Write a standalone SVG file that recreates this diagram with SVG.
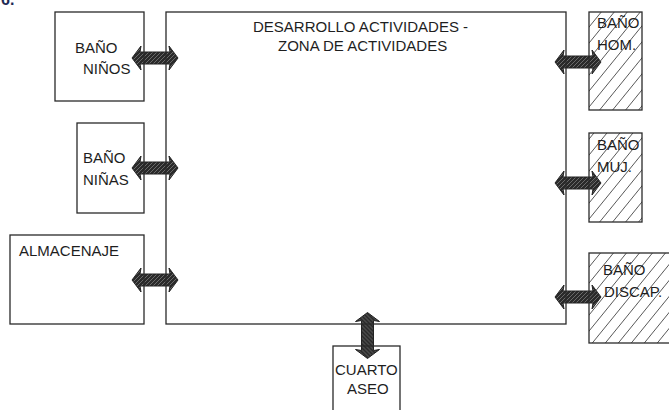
<svg xmlns="http://www.w3.org/2000/svg" width="669" height="410" viewBox="0 0 669 410">
<style>
.box{fill:none;stroke:#2a2a2a;stroke-width:1.3}
.hbox{fill:url(#hatch);stroke:#2a2a2a;stroke-width:1.3}
.t{font-family:"Liberation Sans",Arial,sans-serif;font-size:15px;fill:#1e1e1e}
.arrow{fill:url(#dark);stroke:#222;stroke-width:1}
</style>
<defs>
<pattern id="hatch" patternUnits="userSpaceOnUse" width="13" height="16">
<path d="M-3,4 L3,-4 M0,16 L13,0 M10,20 L16,12" stroke="#444" stroke-width="0.9"/>
</pattern>
<pattern id="dark" patternUnits="userSpaceOnUse" width="4" height="4">
<rect width="4" height="4" fill="#2a2a2a"/>
<path d="M-1,1 L1,-1 M0,4 L4,0 M3,5 L5,3" stroke="#7a7a7a" stroke-width="0.8"/>
</pattern>
<path id="dbl" d="M-23,0 L-14,-12 L-15,-6 L15,-6 L14,-12 L23,0 L14,12 L15,6 L-15,6 L-14,12 Z"/>
</defs>
<rect width="669" height="410" fill="#fff"/>
<text class="t" x="1" y="5" style="font-weight:bold;font-size:16px;fill:#1e2b55">6.</text>
<g id="connectors">
<use href="#dbl" class="arrow" transform="translate(155,58)"/>
<use href="#dbl" class="arrow" transform="translate(155,168)"/>
<use href="#dbl" class="arrow" transform="translate(155,280)"/>
<use href="#dbl" class="arrow" transform="translate(578,62)"/>
<use href="#dbl" class="arrow" transform="translate(578,183)"/>
<use href="#dbl" class="arrow" transform="translate(578,297)"/>
<use href="#dbl" class="arrow" transform="translate(367.5,335.5) rotate(90)"/>
</g>
<g id="zona-actividades">
<rect class="box" x="166" y="12" width="400" height="312"/>
<text class="t" x="253" y="31.5">DESARROLLO ACTIVIDADES -</text>
<text class="t" x="278" y="50.5">ZONA DE ACTIVIDADES</text>
</g>
<g id="bano-ninos">
<rect class="box" x="55" y="12" width="89" height="89"/>
<text class="t" x="75" y="53">BAÑO</text>
<text class="t" x="83" y="74">NIÑOS</text>
</g>
<g id="bano-ninas">
<rect class="box" x="77" y="123" width="67" height="90"/>
<text class="t" x="83" y="163">BAÑO</text>
<text class="t" x="83" y="185">NIÑAS</text>
</g>
<g id="almacenaje">
<rect class="box" x="10" y="235" width="134" height="89"/>
<text class="t" x="19" y="256">ALMACENAJE</text>
</g>
<g id="bano-hom">
<rect class="hbox" x="589" y="12" width="53" height="98"/>
<text class="t" x="597" y="28">BAÑO</text>
<text class="t" x="597" y="50">HOM.</text>
</g>
<g id="bano-muj">
<rect class="hbox" x="589" y="133" width="53" height="89"/>
<text class="t" x="597" y="150">BAÑO</text>
<text class="t" x="597" y="172">MUJ.</text>
</g>
<g id="bano-discap">
<rect class="hbox" x="589" y="253" width="100" height="90"/>
<text class="t" x="603" y="275">BAÑO</text>
<text class="t" x="604" y="297">DISCAP.</text>
</g>
<g id="cuarto-aseo">
<rect class="box" x="333" y="346" width="67" height="80"/>
<text class="t" x="335" y="375">CUARTO</text>
<text class="t" x="347" y="394">ASEO</text>
</g>
</svg>
